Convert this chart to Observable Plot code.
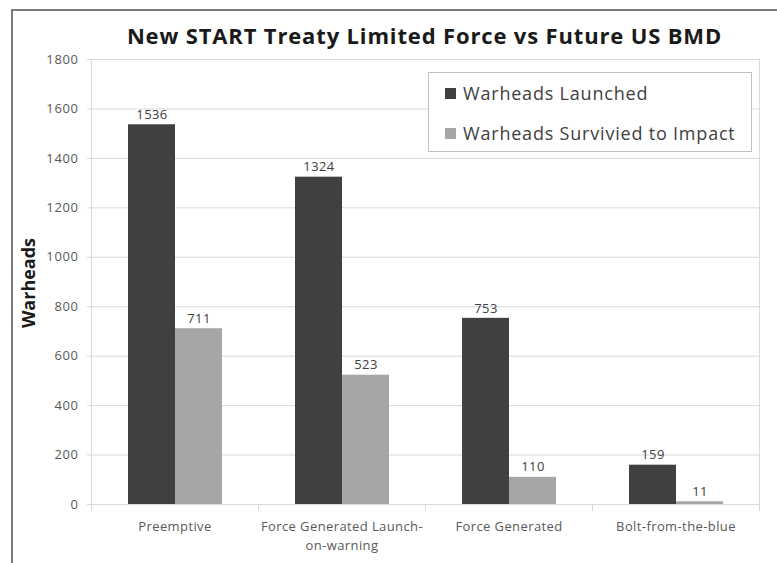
<!DOCTYPE html>
<html><head><meta charset="utf-8">
<script src="https://cdn.jsdelivr.net/npm/d3@7"></script>
<script src="https://cdn.jsdelivr.net/npm/@observablehq/plot@0.6"></script>
<style>
body{margin:0;background:#fff;font-family:"Open Sans",sans-serif;}
#wrap{position:relative;width:777px;height:563px;overflow:hidden;background:#fff;}
#border{position:absolute;left:11px;top:9px;width:800px;height:600px;border-top:2px solid #7a7a7a;border-left:2px solid #7a7a7a;pointer-events:none;}
#title{height:50px;box-sizing:border-box;padding-top:21px;padding-left:90px;padding-right:18px;text-align:center;font-weight:700;font-size:22px;letter-spacing:0.85px;line-height:28px;color:#1a1a1a;white-space:nowrap;}
#ylabel{position:absolute;left:28px;top:283px;transform:translate(-50%,-50%) rotate(-90deg);font-weight:700;font-size:18px;color:#1a1a1a;white-space:nowrap;}
#legend{position:absolute;left:428px;top:72px;width:324px;height:80px;box-sizing:border-box;border:1px solid #bfbfbf;background:#fff;padding:8px 0 0 16px;}
.item{display:flex;align-items:center;height:40px;margin-top:-8px;margin-bottom:8px;font-size:18px;letter-spacing:0.8px;color:#404040;}
.sw{width:11px;height:11px;margin-right:7px;}
#chart svg g[aria-label="y-axis tick label"], #chart svg g[aria-label="y-axis tick label"] text{font-size:13px !important;letter-spacing:0.6px;}
</style></head>
<body><div id="wrap">
<div id="title">New START Treaty Limited Force vs Future US BMD</div>
<div id="chart"></div>
<div id="ylabel">Warheads</div>
<div id="legend"></div>
<div id="border"></div>
</div>
<script>
const categories = ["Preemptive", "Force Generated Launch-on-warning", "Force Generated", "Bolt-from-the-blue"];
const categoryLabels = ["Preemptive", "Force Generated Launch-\non-warning", "Force Generated", "Bolt-from-the-blue"];
const series = ["Warheads Launched", "Warheads Survivied to Impact"];
const launched = [1536, 1324, 753, 159];
const survived = [711, 523, 110, 11];
const yTicks = [0, 200, 400, 600, 800, 1000, 1200, 1400, 1600, 1800];
const colors = ["#404040", "#a6a6a6"];

const data = [];
categories.forEach((c, i) => {
  data.push({category: c, series: series[0], value: launched[i]});
  data.push({category: c, series: series[1], value: survived[i]});
});

const legend = document.getElementById("legend");
series.forEach((s, i) => {
  const it = document.createElement("div");
  it.className = "item";
  it.innerHTML = `<span class="sw" style="background:${colors[i]}"></span><span>${s}</span>`;
  legend.appendChild(it);
});

const grid = "#d9d9d9";
const plot = Plot.plot({
  width: 777, height: 513,
  marginTop: 9, marginBottom: 59, marginLeft: 90, marginRight: 18,
  style: {fontFamily: '"Open Sans", sans-serif', fontSize: "13px", letterSpacing: "0.4px", background: "transparent", overflow: "visible"},
  fx: {domain: categories, padding: 0, label: null, axis: null},
  x: {domain: series, paddingInner: 0, paddingOuter: 0.74, axis: null},
  y: {domain: [0, 1800], axis: null},
  color: {domain: series, range: colors},
  marks: [
    Plot.gridY(yTicks, {stroke: grid, strokeOpacity: 1}),
    Plot.frame({anchor: "left", stroke: grid, strokeOpacity: 1, insetTop: 445, insetBottom: -6}),
    Plot.frame({anchor: "left", fx: () => categories[0], stroke: grid, strokeOpacity: 1, insetBottom: -6}),
    Plot.frame({anchor: "right", fx: () => categories[3], stroke: grid, strokeOpacity: 1, insetBottom: -6}),
    Plot.ruleY([0], {stroke: grid}),
    Plot.barY(data, {fx: "category", x: "series", y: "value", fill: "series"}),
    Plot.text(data, {fx: "category", x: "series", y: "value", text: d => String(d.value), dy: -10, fontSize: 13, fill: "#404040"}),
    Plot.axisY({ticks: yTicks, anchor: "left", tickSize: 4, tickPadding: 9, fontSize: 13, tickFormat: d => String(d), stroke: grid, fill: "#595959", label: null}),
    Plot.axisFx({anchor: "bottom", tickSize: 0, tickPadding: 13, fontSize: 13, tickFormat: d => categoryLabels[categories.indexOf(d)], fill: "#595959", lineHeight: 1.45, label: null})
  ]
});
document.getElementById("chart").appendChild(plot);
</script>
</body></html>
